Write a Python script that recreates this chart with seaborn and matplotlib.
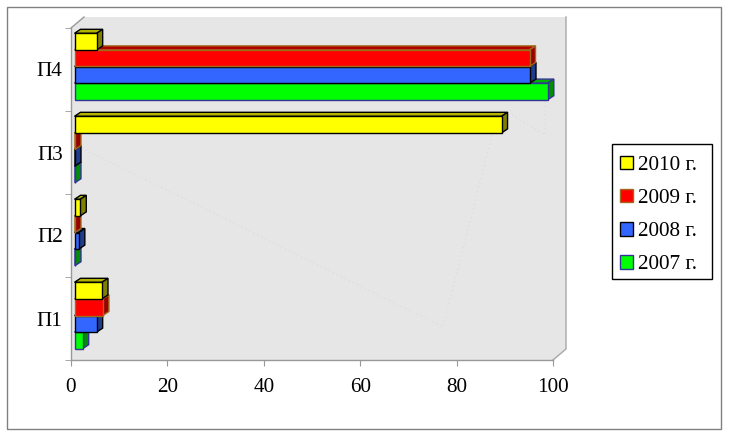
import matplotlib
matplotlib.use('Agg')
import pandas as pd
import seaborn as sns
import matplotlib.pyplot as plt
from matplotlib.patches import Polygon, Rectangle, Patch
from matplotlib.transforms import Affine2D, IdentityTransform

# data
categories = ['П4', 'П3', 'П2', 'П1']
years = ['2010 г.', '2009 г.', '2008 г.', '2007 г.']
values_2010 = [4.6, 88.6, 1.2, 5.7]
values_2009 = [94.4, 0.1, 0.1, 5.9]
values_2008 = [94.5, 0.1, 0.9, 4.6]
values_2007 = [98.2, 0.1, 0.1, 1.7]
x_ticks = [0, 20, 40, 60, 80, 100]

W, H = 729, 437
FRONT = (3.5, 3.0)   # bars stand a bit off the axis plane, pixels
DEPTH = (6.0, 4.0)   # bar depth, pixels
WALL = (13.0, 11.0)  # back wall offset, pixels

colors = ['#ffff00', '#ff0000', '#3366ff', '#00ff00']
edges = ['#000000', '#a06a1a', '#000000', '#333399']
tops = ['#b3b300', '#b30000', '#24479e', '#00b300']
sides = ['#808000', '#990000', '#1f3d8c', '#008f00']

df = pd.DataFrame({
    'cat': categories * 4,
    'year': [y for y in years for _ in categories],
    'val': values_2010 + values_2009 + values_2008 + values_2007,
})

plt.rcParams['font.family'] = ['Liberation Serif', 'DejaVu Serif']
fig = plt.figure(figsize=(W / 100, H / 100), dpi=100, facecolor='white')
ax = fig.add_axes([71 / W, 1 - 360 / H, (553 - 71) / W, (360 - 28) / H])
ax.patch.set_visible(False)

sns.barplot(data=df, y='cat', x='val', hue='year', order=categories, hue_order=years,
            palette=colors, saturation=1, width=0.8, gap=0, legend=False, ax=ax)
ax.set_xlim(0, 100)
ax.set_ylim(3.5, -0.5)
ax.set_xlabel('')
ax.set_ylabel('')
bars = list(ax.patches)

# back wall and floor
x0, y0 = ax.transAxes.transform((0, 0))
x1, y1 = ax.transAxes.transform((1, 1))
wx, wy = WALL
ax.add_patch(Polygon([(x0, y1), (x0 + wx, y1 + wy), (x1 + wx, y1 + wy), (x1 + wx, y0 + wy),
                      (x1, y0), (x0, y0)], transform=IdentityTransform(),
                     facecolor='#e6e6e6', edgecolor='none', zorder=0, clip_on=False))
ax.plot([x0, x0 + wx], [y1, y1 + wy], color='#999999', lw=1, transform=IdentityTransform(), clip_on=False, zorder=1)
ax.plot([x1, x1 + wx, x1 + wx], [y0, y0 + wy, y1 + wy], color='#a6a6a6', lw=1,
        transform=IdentityTransform(), clip_on=False, zorder=1)

# faint dotted traces on the wall
for xs, ys in [([82, 443, 497], [148, 327, 115]), ([512, 545, 545], [115, 135, 100])]:
    ax.plot(xs, [H - v for v in ys], color='#dadada', lw=0.8, ls=(0, (1, 3)),
            transform=IdentityTransform(), clip_on=False, zorder=1)

# extrude every bar, lower bars are drawn first
fx, fy = FRONT
dx, dy = DEPTH
for i, bar in enumerate(bars):
    c = i // 4
    bx, by, bw, bh = bar.get_x(), bar.get_y(), bar.get_width(), bar.get_height()
    z = 10 + (4 - (by + bh / 2)) * 3
    (l, b), (r, t) = ax.transData.transform([(bx, by + bh), (bx + bw, by)])
    l, r, b, t = l + fx, r + fx, b + fy, t + fy
    ax.add_patch(Polygon([(l, t), (l + dx, t + dy), (r + dx, t + dy), (r, t)],
                         transform=IdentityTransform(), facecolor=tops[c], edgecolor=edges[c],
                         lw=1, zorder=z, clip_on=False))
    ax.add_patch(Polygon([(r, b), (r + dx, b + dy), (r + dx, t + dy), (r, t)],
                         transform=IdentityTransform(), facecolor=sides[c], edgecolor=edges[c],
                         lw=1, zorder=z, clip_on=False))
    bar.set_transform(bar.get_data_transform() + Affine2D().translate(fx, fy))
    bar.set_edgecolor(edges[c])
    bar.set_linewidth(1)
    bar.set_zorder(z + 1)
    bar.set_clip_on(False)

# axes
sns.despine(ax=ax, top=True, right=True)
for s in ['left', 'bottom']:
    ax.spines[s].set_color('#999999')
    ax.spines[s].set_linewidth(1)
ax.set_xticks(x_ticks)
ax.tick_params(axis='x', length=4.5, color='#999999', labelsize=15.2, pad=8.5, labelcolor='black')
ax.set_yticks([0, 1, 2, 3], categories)
ax.tick_params(axis='y', length=0, labelsize=15.2, pad=6, labelcolor='black')
ax.set_yticks([-0.5, 0.5, 1.5, 2.5, 3.5], minor=True)
ax.tick_params(axis='y', which='minor', length=4.5, color='#999999')

# legend, the frame is drawn apart so the rows can sit lower in it
handles = [Patch(facecolor=fc, edgecolor=ec, lw=1) for fc, ec in zip(colors, edges)]
ax.legend(handles, years, loc='upper left', bbox_to_anchor=(611 / W, 1 - 147 / H),
          bbox_transform=fig.transFigure, borderaxespad=0, fontsize=15.3, frameon=False,
          handlelength=0.6, handleheight=0.6, labelspacing=0.65, handletextpad=0.25, borderpad=0.42)
fig.add_artist(Rectangle((612 / W, 1 - 279 / H), 100 / W, 135 / H, transform=fig.transFigure,
                         facecolor='white', edgecolor='black', lw=1, zorder=-1))

# picture frame
fig.add_artist(Rectangle((7 / W, 1 - 429 / H), 714 / W, 422 / H, transform=fig.transFigure,
                         facecolor='none', edgecolor='#808080', lw=1, zorder=-1))

fig.savefig('out.png', dpi=100)
